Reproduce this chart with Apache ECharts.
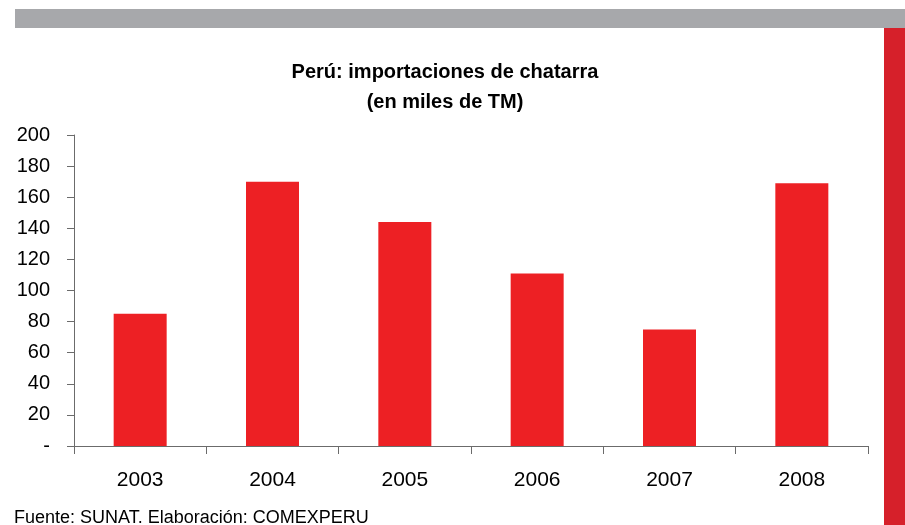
<!DOCTYPE html>
<html>
<head>
<meta charset="utf-8">
<script src="https://cdn.jsdelivr.net/npm/echarts@6/dist/echarts.min.js"></script>
<style>
  html, body { margin: 0; padding: 0; background: #fff; }
  #chart { width: 905px; height: 525px; }
</style>
</head>
<body>
<div id="chart"></div>
<script>
// años y toneladas importadas (miles de TM)
const years = ['2003', '2004', '2005', '2006', '2007', '2008']
const imports = [85, 170, 144, 111, 75, 169]
const titleLines = ['Perú: importaciones de chatarra', '(en miles de TM)']
const sourceNote = 'Fuente: SUNAT. Elaboración: COMEXPERU'

const chart = echarts.init(document.getElementById('chart'))
const font = '"Liberation Sans", Arial, sans-serif'

const option = {
  animation: false,
  backgroundColor: '#ffffff',
  title: {
    text: titleLines.join('\n'),
    left: 440,
    top: 52,
    textAlign: 'center',
    textStyle: {
      fontFamily: font,
      fontSize: 20,
      fontWeight: 'bold',
      color: '#000',
      lineHeight: 30
    }
  },
  grid: {
    left: 74,
    right: 37,
    top: 135,
    bottom: 79
  },
  xAxis: {
    type: 'category',
    data: years,
    axisLine: { lineStyle: { color: '#6b6b6b', width: 1 } },
    axisTick: { show: true, alignWithLabel: false, length: 8, lineStyle: { color: '#6b6b6b' } },
    axisLabel: {
      fontFamily: font,
      fontSize: 21,
      color: '#000',
      margin: 24
    }
  },
  yAxis: {
    type: 'value',
    min: 0,
    max: 200,
    interval: 20,
    splitLine: { show: false },
    axisLine: { show: true, lineStyle: { color: '#6b6b6b', width: 1 } },
    axisTick: { show: true, length: 7, lineStyle: { color: '#6b6b6b' } },
    axisLabel: {
      fontFamily: font,
      fontSize: 20,
      color: '#000',
      margin: 24,
      formatter: (v) => (v === 0 ? '-' : String(v))
    }
  },
  series: [
    {
      type: 'bar',
      data: imports,
      barWidth: 53,
      itemStyle: { color: '#ED2024' }
    }
  ],
  graphic: [
    // franja gris superior
    { type: 'rect', shape: { x: 15, y: 9, width: 890, height: 19 }, style: { fill: '#A7A8AB' } },
    // franja roja lateral
    { type: 'rect', shape: { x: 884, y: 28, width: 21, height: 497 }, style: { fill: '#D6202A' } },
    {
      type: 'text',
      left: 14,
      top: 509,
      style: { text: sourceNote, fontFamily: font, fontSize: 18, fill: '#000' }
    }
  ]
}
chart.setOption(option)
</script>
</body>
</html>
